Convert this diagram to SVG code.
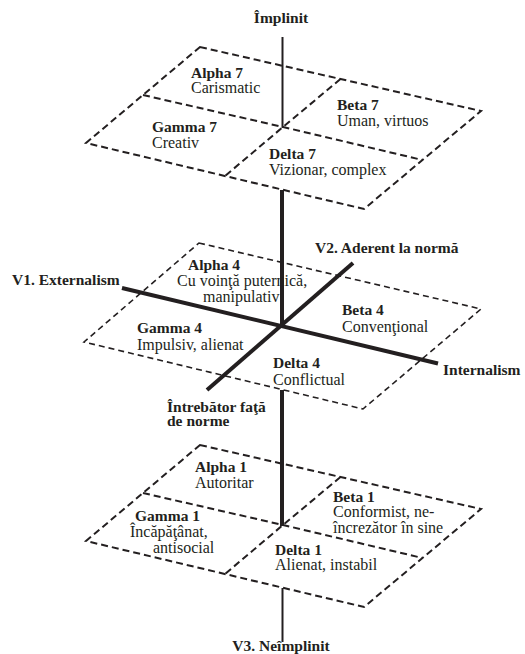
<svg xmlns="http://www.w3.org/2000/svg" width="525" height="654" viewBox="0 0 525 654">
<style>
text{font-family:"Liberation Serif","Times New Roman",Tinos,"DejaVu Serif","Noto Serif",serif;fill:#231f20}
.b{font-weight:bold;font-size:15.5px}
.r{font-size:16px}
.plane{fill:none;stroke:#231f20;stroke-width:2;stroke-dasharray:7 4}
.plane2{fill:none;stroke:#231f20;stroke-width:1.6;stroke-dasharray:6 4}
.thin{stroke:#231f20;stroke-width:2;fill:none}
.thick{stroke:#231f20;stroke-width:4;fill:none}
</style>
<rect width="525" height="654" fill="#fff"/>
<g id="planes">
  <g id="plane-top">
    <polygon class="plane" points="200,47 481,111 364,209 86,143"/>
    <polyline class="plane" points="143,95 283,127 422.5,160"/>
    <polyline class="plane" points="340.5,79 283,127 225,176"/>
  </g>
  <g id="plane-middle">
    <polygon class="plane2" points="199,243 481,309 363,409 84,342"/>
  </g>
  <g id="plane-bottom">
    <polygon class="plane" points="200,445 481,509 364,607 86,541"/>
    <polyline class="plane" points="143,493 283,525 422.5,558"/>
    <polyline class="plane" points="340.5,477 283,525 225,574"/>
  </g>
</g>
<g id="connectors">
  <line class="thin" x1="282.5" y1="37" x2="282.5" y2="128"/>
  <line class="thick" x1="282" y1="190" x2="282" y2="326"/>
  <line class="thick" x1="282" y1="390" x2="282" y2="526"/>
  <line class="thin" x1="282.5" y1="588" x2="282.5" y2="642"/>
  <line class="thick" x1="122" y1="288" x2="438" y2="363.5"/>
  <line class="thick" x1="353" y1="263" x2="207" y2="390"/>
</g>
<g id="axis-labels">
  <g id="label-implinit"><text class="b" x="281" y="23" text-anchor="middle">Împlinit</text></g>
  <g id="label-v1"><text class="b" x="12" y="285">V1. Externalism</text></g>
  <g id="label-v2"><text class="b" x="315" y="253">V2. Aderent la normă</text></g>
  <g id="label-internalism"><text class="b" x="443" y="375">Internalism</text></g>
  <g id="label-intrebator"><text class="b" x="167" y="411.5">Întrebător faţă</text><text class="b" x="167" y="426">de norme</text></g>
  <g id="label-v3"><text class="b" x="281" y="651" text-anchor="middle">V3. Neîmplinit</text></g>
</g>
<g id="alpha7"><text class="b" x="191" y="78">Alpha 7</text><text class="r" x="191" y="93">Carismatic</text></g>
<g id="gamma7"><text class="b" x="152" y="132">Gamma 7</text><text class="r" x="152" y="148">Creativ</text></g>
<g id="beta7"><text class="b" x="337" y="110">Beta 7</text><text class="r" x="337" y="126">Uman, virtuos</text></g>
<g id="delta7"><text class="b" x="269" y="159">Delta 7</text><text class="r" x="269" y="175">Vizionar, complex</text></g>
<g id="alpha4"><text class="b" x="188" y="270">Alpha 4</text><text class="r" x="177" y="286">Cu voinţă puternică,</text><text class="r" x="203" y="302">manipulativ</text></g>
<g id="gamma4"><text class="b" x="137" y="333">Gamma 4</text><text class="r" x="137" y="350">Impulsiv, alienat</text></g>
<g id="beta4"><text class="b" x="342" y="315">Beta 4</text><text class="r" x="342" y="332">Convenţional</text></g>
<g id="delta4"><text class="b" x="273" y="368">Delta 4</text><text class="r" x="273" y="385">Conflictual</text></g>
<g id="alpha1"><text class="b" x="195" y="472">Alpha 1</text><text class="r" x="195" y="488">Autoritar</text></g>
<g id="gamma1"><text class="b" x="135" y="521">Gamma 1</text><text class="r" x="130" y="537">Încăpăţânat,</text><text class="r" x="153" y="553">antisocial</text></g>
<g id="beta1"><text class="b" x="333" y="502">Beta 1</text><text class="r" x="333" y="517">Conformist, ne-</text><text class="r" x="333" y="533">încrezător în sine</text></g>
<g id="delta1"><text class="b" x="275" y="555">Delta 1</text><text class="r" x="275" y="570">Alienat, instabil</text></g>
</svg>
